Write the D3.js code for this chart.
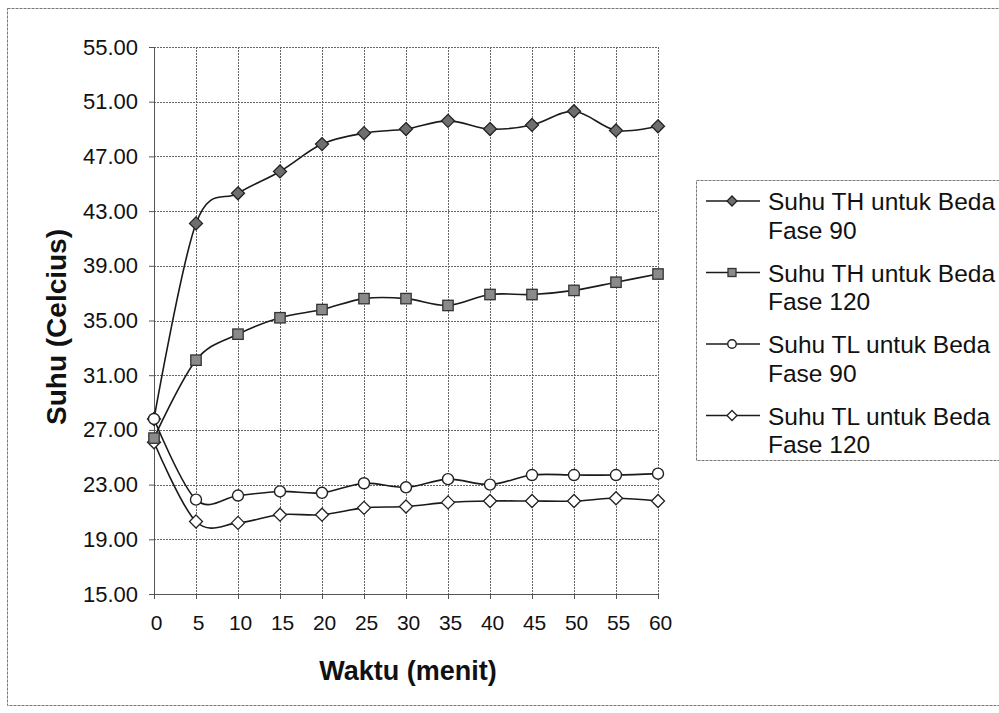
<!DOCTYPE html>
<html>
<head>
<meta charset="utf-8">
<script src="https://cdn.jsdelivr.net/npm/d3@7"></script>
<style>
  body { margin: 0; background: #fff; }
  text { font-family: Arial, "Liberation Sans", sans-serif; fill: #111; }
</style>
</head>
<body>
<svg id="chart" width="999" height="713"></svg>
<script>
// Time (minutes) on the category axis
const waktu = [0, 5, 10, 15, 20, 25, 30, 35, 40, 45, 50, 55, 60];

// Temperatures (Celsius) per series
const suhuTH90  = [27.8, 42.1, 44.3, 45.9, 47.9, 48.7, 49.0, 49.6, 49.0, 49.3, 50.3, 48.9, 49.2];
const suhuTH120 = [26.4, 32.1, 34.0, 35.2, 35.8, 36.6, 36.6, 36.1, 36.9, 36.9, 37.2, 37.8, 38.4];
const suhuTL90  = [27.8, 21.9, 22.2, 22.5, 22.4, 23.1, 22.8, 23.4, 23.0, 23.7, 23.7, 23.7, 23.8];
const suhuTL120 = [26.1, 20.3, 20.2, 20.8, 20.8, 21.3, 21.4, 21.7, 21.8, 21.8, 21.8, 22.0, 21.8];

// Value axis ticks
const yTicks = [15, 19, 23, 27, 31, 35, 39, 43, 47, 51, 55];

// Legend labels (two lines each)
const legendLines = [
  ["Suhu TH untuk Beda", "Fase 90"],
  ["Suhu TH untuk Beda", "Fase 120"],
  ["Suhu TL untuk Beda", "Fase 90"],
  ["Suhu TL untuk Beda", "Fase 120"]
];

const series = [
  { key: "th90",  values: suhuTH90,  marker: "diamond", fill: "#6e6e6e", stroke: "#222", legend: 0 },
  { key: "tl120", values: suhuTL120, marker: "diamond", fill: "#fff",    stroke: "#222", legend: 3 },
  { key: "th120", values: suhuTH120, marker: "square",  fill: "#8a8a8a", stroke: "#333", legend: 1 },
  { key: "tl90",  values: suhuTL90,  marker: "circle",  fill: "#fff",    stroke: "#222", legend: 2 }
];

const svg = d3.select("#chart");

// Outer chart frame
svg.append("rect")
  .attr("x", 7.5).attr("y", 8.5)
  .attr("width", 1010).attr("height", 697)
  .attr("fill", "none").attr("stroke", "#777").attr("stroke-width", 1)
  .attr("stroke-dasharray", "3,1");

const plot = { left: 154, right: 658, top: 47, bottom: 594 };

const x = d3.scalePoint().domain(waktu).range([plot.left, plot.right]).padding(0);
const y = d3.scaleLinear().domain([15, 55]).range([plot.bottom, plot.top]);

const grid = svg.append("g").attr("class", "grid");

// Horizontal gridlines
grid.selectAll("line.h").data(yTicks).join("line")
  .attr("class", "h")
  .attr("x1", plot.left).attr("x2", plot.right)
  .attr("y1", d => Math.round(y(d)) + 0.5).attr("y2", d => Math.round(y(d)) + 0.5)
  .attr("stroke", "#666").attr("stroke-width", 1).attr("stroke-dasharray", "2,1");

// Vertical gridlines
grid.selectAll("line.v").data(waktu).join("line")
  .attr("class", "v")
  .attr("x1", d => Math.round(x(d)) + 0.5).attr("x2", d => Math.round(x(d)) + 0.5)
  .attr("y1", plot.top).attr("y2", plot.bottom)
  .attr("stroke", "#666").attr("stroke-width", 1).attr("stroke-dasharray", "2,1");

// Y axis
const yAxis = svg.append("g")
  .attr("transform", `translate(${plot.left},0)`)
  .call(d3.axisLeft(y).tickValues(yTicks).tickFormat(d3.format(".2f")).tickSize(5).tickPadding(11));
yAxis.selectAll("text").style("font-size", "22px").attr("fill", "#111");
yAxis.selectAll("line, path").attr("stroke", "#555");

// X axis
const xAxis = svg.append("g")
  .attr("transform", `translate(0,${plot.bottom})`)
  .call(d3.axisBottom(x).tickSize(5).tickPadding(16));
xAxis.selectAll("text").style("font-size", "21px").attr("fill", "#111").attr("dx", "0.1em");
xAxis.selectAll("line, path").attr("stroke", "#555");

// Axis titles
svg.append("text")
  .attr("x", 408).attr("y", 680)
  .attr("text-anchor", "middle")
  .style("font-size", "27px").style("font-weight", "bold")
  .text("Waktu (menit)");

svg.append("text")
  .attr("transform", "translate(66,327) rotate(-90)")
  .attr("text-anchor", "middle")
  .style("font-size", "28px").style("font-weight", "bold")
  .text("Suhu (Celcius)");

// Marker drawing helper
function drawMarker(g, type, cx, cy, fill, stroke, s) {
  if (type === "diamond") {
    g.append("path")
      .attr("d", `M${cx},${cy - s}L${cx + s},${cy}L${cx},${cy + s}L${cx - s},${cy}Z`)
      .attr("fill", fill).attr("stroke", stroke).attr("stroke-width", 1.3);
  } else if (type === "square") {
    const h = s * 0.8;
    g.append("rect")
      .attr("x", cx - h).attr("y", cy - h).attr("width", 2 * h).attr("height", 2 * h)
      .attr("fill", fill).attr("stroke", stroke).attr("stroke-width", 1.3);
  } else {
    g.append("circle")
      .attr("cx", cx).attr("cy", cy).attr("r", s * 0.85)
      .attr("fill", fill).attr("stroke", stroke).attr("stroke-width", 1.4);
  }
}

const line = d3.line()
  .x((d, i) => x(waktu[i]))
  .y(d => y(d))
  .curve(d3.curveCardinal.tension(0));

const marks = svg.append("g").attr("class", "series");
series.forEach(s => {
  const g = marks.append("g").attr("class", s.key);
  g.append("path")
    .datum(s.values)
    .attr("d", line)
    .attr("fill", "none")
    .attr("stroke", "#1a1a1a")
    .attr("stroke-width", 1.6);
  s.values.forEach((v, i) => drawMarker(g, s.marker, x(waktu[i]), y(v), s.fill, s.stroke, 6.5));
});

// Legend
const legend = svg.append("g").attr("class", "legend");
legend.append("rect")
  .attr("x", 696.5).attr("y", 180.5)
  .attr("width", 320).attr("height", 280)
  .attr("fill", "#fff").attr("stroke", "#777").attr("stroke-dasharray", "3,1");

const legendOrder = [0, 2, 3, 1].map(k => series.find(s => s.legend === k) ? series.find(s => s.legend === k) : null);
[0, 1, 2, 3].forEach(k => {
  const s = series.find(d => d.legend === k);
  const ly = 201 + k * 71.5;
  const g = legend.append("g");
  g.append("line")
    .attr("x1", 706).attr("x2", 760)
    .attr("y1", ly).attr("y2", ly)
    .attr("stroke", "#1a1a1a").attr("stroke-width", 1.5);
  drawMarker(g, s.marker, 732, ly, s.fill, s.stroke, 5);
  g.append("text")
    .attr("x", 768).attr("y", ly + 9)
    .style("font-size", "24.5px")
    .text(legendLines[k][0]);
  g.append("text")
    .attr("x", 768).attr("y", ly + 37.5)
    .style("font-size", "24.5px")
    .text(legendLines[k][1]);
});
</script>
</body>
</html>
